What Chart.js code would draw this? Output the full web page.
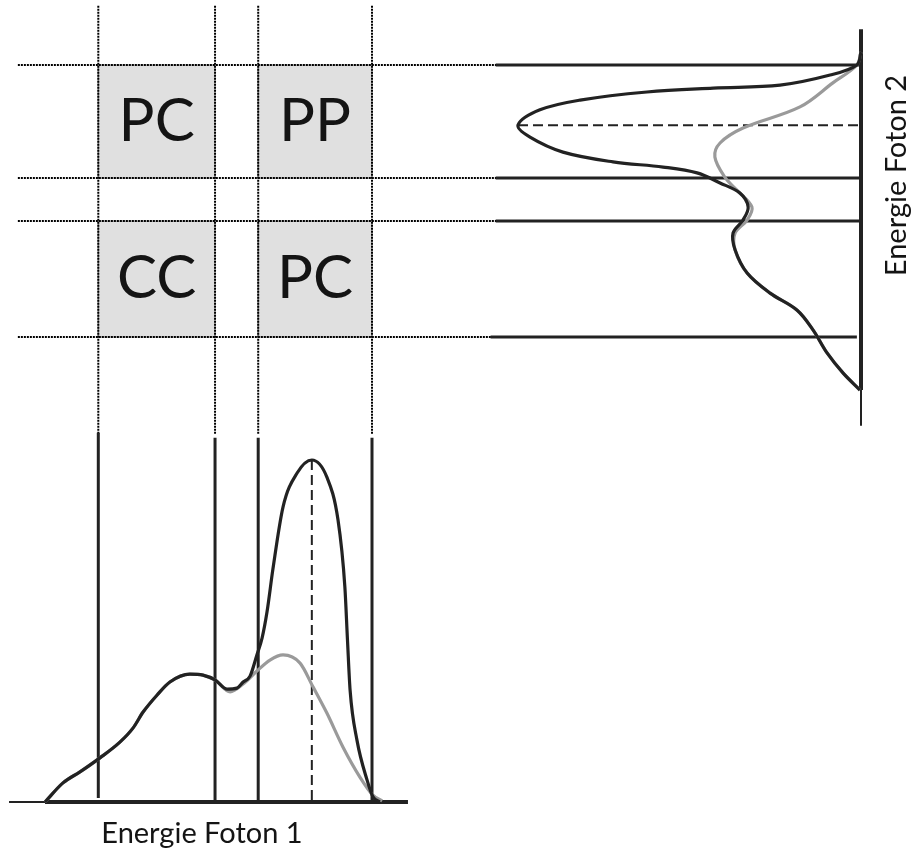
<!DOCTYPE html>
<html>
<head>
<meta charset="utf-8">
<title>Energie Foton</title>
<script src="https://cdn.jsdelivr.net/npm/chart.js@4.4.1/dist/chart.umd.min.js"></script>
<style>
  html, body { margin: 0; padding: 0; background: #fff; }
  #wrap { width: 915px; height: 856px; }
</style>
</head>
<body>
<div id="wrap"><canvas id="coinc" width="915" height="856"></canvas></div>
<script>
/* Coincidence windows for two photon energy spectra (PC / PP / CC) */

// energy windows, same for both photons (arbitrary energy units)
const lowWindow = [16.3, 52];
const highWindow = [65.2, 100];
const windowEdges = [16.3, 52, 65.2, 100];
// window marker lines, counts where each one starts and ends
const markerBase = [1.2, 0, 0, 0];
const markerTop = [108, 106.5, 106.5, 106.5];

// box labels: rows = photon 2 window (high, low), cols = photon 1 window (low, high)
const boxLabels = [['PC', 'PP'], ['CC', 'PC']];

// photon 1 spectrum (energy, counts)
const e1Black = [0, 5.5, 10.7, 16.8, 22.9, 26.9, 30, 34.3, 38.2, 44.3, 48.3, 52, 55.7, 58.7, 60.6, 62.7, 64.8, 66.4, 67.9, 69.7, 72.8, 77.1, 81.6, 86.2, 89.6, 91.7, 92.5, 93.3, 95.4, 98.5, 100.3, 102.4];
const c1Black = [0, 5.6, 8.8, 12.9, 17.5, 21.6, 26.3, 31.3, 35.1, 37.4, 37.1, 35.7, 33, 33.3, 35.1, 36.8, 43, 48, 55.6, 68.1, 86.3, 96.2, 100, 95, 82.5, 62.9, 47.4, 32.7, 18.1, 6.4, 1.5, 0];
const e1Grey = [0, 5.5, 10.7, 16.8, 22.9, 26.9, 30, 34.3, 38.2, 44.3, 48.3, 52, 56.6, 60.6, 64.8, 68.8, 72.8, 78, 82, 86.2, 91.1, 96.3, 100.3, 103.1];
const c1Grey = [0, 5.6, 8.8, 12.9, 17.5, 21.6, 26.3, 31.3, 35.1, 37.4, 37.1, 35.7, 32.2, 34.5, 38.3, 41.5, 43, 40.6, 33.6, 26, 16.1, 7.3, 2, 0.3];

// photon 2 spectrum (energy, counts)
const e2Black = [104, 100, 96.9, 93.8, 92.9, 91.7, 89.2, 86.2, 81.5, 77.8, 73.2, 70.2, 68.6, 66.8, 63.7, 60.6, 56.3, 52.3, 48.3, 43.1, 36, 29.8, 24.6, 18.5, 11.4, 5.2, 0];
const c2Black = [0, 1.2, 9, 23.6, 43.1, 62.4, 81.9, 93.6, 100, 96.5, 86.9, 72.3, 57.7, 47.8, 41.1, 35.3, 32.9, 34.4, 37.3, 36.7, 33.2, 26.5, 18.7, 14, 9.9, 5.2, 0.3];
const e2Grey = [104, 100, 94.5, 87.1, 80.6, 76, 71.7, 65.5, 61.5, 56.3, 52.3, 48.3, 43.1, 36, 29.8, 24.6, 18.5, 11.4, 5.2, 0];
const c2Grey = [0, 1.2, 8.2, 17.8, 34.4, 41.1, 42.6, 39.7, 36.2, 31.8, 33.2, 36.7, 36.7, 33.2, 26.5, 18.7, 14, 9.9, 5.2, 0.3];

// peaks marked with a dashed line
const peak1 = { e: 81.6, c: 100 };
const peak2 = { e: 81.5, c: 100 };

// energy axis line: thin lead-in, then the thick part
const axisThin = [-11, 0];
const axisThick = [0, 111];
// reach of the dotted guides across the window grid
const guideE1 = [-8.3, 141];
const guideE2 = [118.2, -13.5];

const W = 915, H = 856;
const INK = '#222';
const GREY = '#9a9a9a';
const FONT = 'Lato, "DejaVu Sans", sans-serif';

// value range of an invisible axis so that v0 lands on pixel p0 and v1 on p1
function axisRange(v0, p0, v1, p1, size, vertical) {
    const k = (v1 - v0) / (p1 - p0);
    const a = v0 - p0 * k, b = v0 + (size - p0) * k;
    return { min: Math.min(a, b), max: Math.max(a, b), reverse: vertical ? a < b : a > b };
}

function hiddenAxis(axis, range) {
    return { type: 'linear', axis: axis, display: false, bounds: 'data',
             min: range.min, max: range.max, reverse: range.reverse };
}

const zip = (xs, ys) => xs.map((x, i) => ({ x: x, y: ys[i] }));

function line(points, ids, style) {
    return Object.assign({
        data: points, xAxisID: ids[0], yAxisID: ids[1],
        borderColor: INK, borderWidth: 3, pointRadius: 0, tension: 0, fill: false
    }, style || {});
}

const BOTTOM = ['e1', 'c1'];
const RIGHT = ['c2', 'e2'];
const GRID = ['e1', 'e2'];

const datasets = [];  // pushed bottom layer first

// grey window boxes
const cols = [lowWindow, highWindow];
const rows = [highWindow, lowWindow];
rows.forEach(yw => cols.forEach(xw => {
    datasets.push(line([
        { x: xw[0], y: yw[0] }, { x: xw[1], y: yw[0] }, { x: xw[1], y: yw[1] },
        { x: xw[0], y: yw[1] }, { x: xw[0], y: yw[0] }
    ], GRID, { borderColor: '#8c8c8c', borderWidth: 1, backgroundColor: '#e0e0e0', fill: 'shape' }));
}));

// dotted guides
const dotted = { borderColor: '#000', borderWidth: 2, borderDash: [2, 1] };
windowEdges.forEach(e => {
    datasets.push(line([{ x: e, y: guideE2[0] }, { x: e, y: guideE2[1] }], GRID, dotted));
    datasets.push(line([{ x: guideE1[0], y: e }, { x: guideE1[1], y: e }], GRID, dotted));
});

// window markers on both spectra
windowEdges.forEach((e, i) => {
    datasets.push(line([{ x: e, y: markerBase[i] }, { x: e, y: markerTop[i] }], BOTTOM));
    datasets.push(line([{ x: markerBase[i], y: e }, { x: markerTop[i], y: e }], RIGHT));
});

// energy axes
datasets.push(line(zip(axisThin, [0, 0]), BOTTOM, { borderWidth: 2 }));
datasets.push(line(zip(axisThick, [0, 0]), BOTTOM, { borderWidth: 4 }));
datasets.push(line(zip([0, 0], axisThin), RIGHT, { borderWidth: 2 }));
datasets.push(line(zip([0, 0], axisThick), RIGHT, { borderWidth: 4 }));

// dashed peak lines
datasets.push(line([{ x: peak1.e, y: peak1.c }, { x: peak1.e, y: 0 }], BOTTOM, { borderWidth: 2, borderDash: [10, 5] }));
datasets.push(line([{ x: peak2.c, y: peak2.e }, { x: 0, y: peak2.e }], RIGHT, { borderWidth: 2, borderDash: [10, 5] }));

// spectra: grey under black
const smoothX = { tension: 0.4, cubicInterpolationMode: 'monotone', borderWidth: 3.2 };
const smoothY = { tension: 0.35, borderWidth: 3.2 };
datasets.push(line(zip(e1Grey, c1Grey), BOTTOM, Object.assign({ borderColor: GREY }, smoothX)));
datasets.push(line(zip(c2Grey, e2Grey), RIGHT, Object.assign({ borderColor: GREY }, smoothY)));
datasets.push(line(zip(e1Black, c1Black), BOTTOM, smoothX));
datasets.push(line(zip(c2Black, e2Black), RIGHT, smoothY));

// Chart.js draws the first dataset on top
datasets.reverse();

const textPlugin = {
    id: 'coincText',
    afterDatasetsDraw(chart) {
        const { ctx, scales } = chart;
        ctx.save();
        ctx.fillStyle = '#141414';
        ctx.textAlign = 'center';
        ctx.textBaseline = 'middle';
        ctx.font = '400 60px ' + FONT;
        rows.forEach((yw, r) => cols.forEach((xw, c) => {
            const x = scales.e1.getPixelForValue((xw[0] + xw[1]) / 2);
            const y = scales.e2.getPixelForValue((yw[0] + yw[1]) / 2);
            ctx.fillText(boxLabels[r][c], x, y);
        }));

        ctx.font = '400 29px ' + FONT;
        ctx.textBaseline = 'alphabetic';
        ctx.fillText('Energie Foton 1', scales.e1.getPixelForValue(48), 843);

        ctx.translate(906, scales.e2.getPixelForValue(66));
        ctx.rotate(-Math.PI / 2);
        ctx.fillText('Energie Foton 2', 0, 0);
        ctx.restore();
    }
};

new Chart(document.getElementById('coinc'), {
    type: 'line',
    data: { datasets: datasets },
    options: {
        responsive: false,
        animation: false,
        events: [],
        layout: { padding: 0 },
        plugins: { legend: { display: false }, tooltip: { enabled: false } },
        scales: {
            e1: hiddenAxis('x', axisRange(0, 45, 100, 372, W, false)),
            c2: hiddenAxis('x', axisRange(0, 861, 100, 518, W, false)),
            e2: hiddenAxis('y', axisRange(0, 390, 100, 65, H, true)),
            c1: hiddenAxis('y', axisRange(0, 802, 100, 460, H, true))
        }
    },
    plugins: [textPlugin]
});
</script>
</body>
</html>
